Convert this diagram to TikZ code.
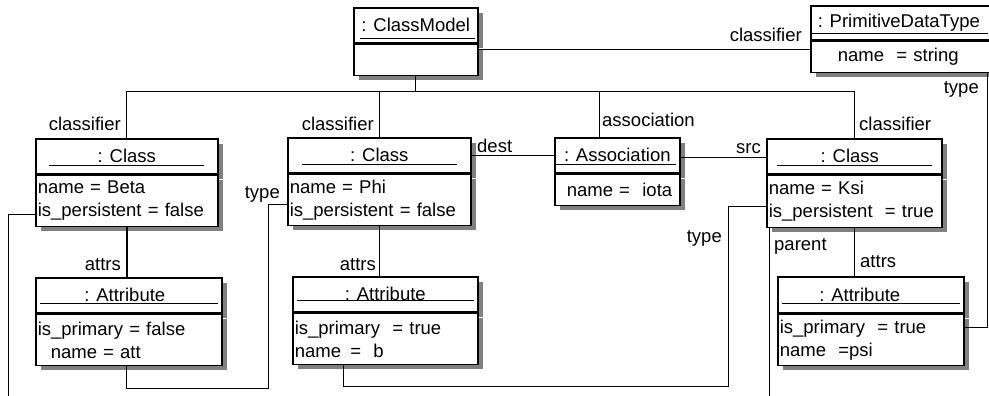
\documentclass[tikz,border=0pt]{standalone}
\usepackage{fontspec}
\setmainfont{Liberation Sans}
\usetikzlibrary{calc, shadows}

\tikzset{
  objhead/.style={draw, line width=1.6pt, fill=white, anchor=north west, inner sep=0pt,
    drop shadow={shadow xshift=5pt, shadow yshift=-5pt, fill=gray, opacity=1}},
  objbody/.style={objhead, align=left, inner xsep=2pt},
  uline/.style={line width=1.1pt},
  link/.style={line width=1pt},
  strong/.style={line width=1.5pt},
  role/.style={inner sep=0pt}
}

\begin{document}
\begin{tikzpicture}[x=1pt, y=-1pt, font=\fontsize{18.5}{23}\selectfont]
  \useasboundingbox (0,0) rectangle (989,396);
  \clip (0,0) rectangle (989,396);
  \coordinate (cut) at (0,400);

  % top row
  \node[objhead, minimum width=124pt, minimum height=35pt] (cmH) at (353,7) {: ClassModel};
  \node[objbody, text width=120pt, minimum height=31pt] (cmB) at (cmH.south west) {};
  \draw[uline] ($(cmH.south west)+(7,-5)$) -- ($(cmH.south east)+(-4,-5)$);

  \node[objhead, minimum width=183pt, minimum height=34pt] (pdtH) at (810,5) {: PrimitiveDataType\hspace*{7pt}};
  \node[objbody, text width=179pt, minimum height=31pt] (pdtB) at (pdtH.south west) {\hspace*{25pt}name\ \ = string};
  \draw[uline] ($(pdtH.south west)+(1,-7)$) -- ($(pdtH.south east)+(-7,-7)$);

  % classes and association
  \node[objhead, minimum width=182pt, minimum height=35pt] (betaH) at (35,138) {: Class};
  \node[objbody, text width=178pt, minimum height=51pt] (betaB) at (betaH.south west) {name = Beta\\is\_persistent = false};
  \draw[uline] ($(betaH.south west)+(14,-9)$) -- ($(betaH.south east)+(-15,-9)$);

  \node[objhead, minimum width=183pt, minimum height=35pt] (phiH) at (287,137) {: Class};
  \node[objbody, text width=179pt, minimum height=51pt] (phiB) at (phiH.south west) {name = Phi\\is\_persistent = false};
  \draw[uline] ($(phiH.south west)+(15,-9)$) -- ($(phiH.south east)+(-15,-9)$);

  \node[objhead, minimum width=125pt, minimum height=35pt] (assocH) at (554,137) {: Association};
  \node[objbody, text width=121pt, minimum height=31pt] (assocB) at (assocH.south west) {\hspace*{10pt}name =\ \ iota};
  \draw[uline] ($(assocH.south west)+(1,-9)$) -- ($(assocH.south east)+(-5,-9)$);

  \node[objhead, minimum width=175pt, minimum height=35pt] (ksiH) at (766,138) {: Class\hspace*{9pt}};
  \node[objbody, text width=171pt, minimum height=52pt] (ksiB) at (ksiH.south west) {name = Ksi\\is\_persistent\ \ = true};
  \draw[uline] ($(ksiH.south west)+(11,-9)$) -- ($(ksiH.south east)+(-11,-9)$);

  % attributes
  \node[objhead, minimum width=186pt, minimum height=35pt] (betaAH) at (35,277) {: Attribute\hspace*{8pt}};
  \node[objbody, text width=182pt, minimum height=51pt] (betaAB) at (betaAH.south west) {is\_primary = false\\\hspace*{13pt}name = att};
  \draw[uline] ($(betaAH.south west)+(5,-10)$) -- ($(betaAH.south east)+(-5,-10)$);

  \node[objhead, minimum width=185pt, minimum height=35pt] (phiAH) at (292,276) {: Attribute};
  \node[objbody, text width=181pt, minimum height=51pt] (phiAB) at (phiAH.south west) {is\_primary\ \ = true\\name\ \,= \ b};
  \draw[uline] ($(phiAH.south west)+(5,-12)$) -- ($(phiAH.south east)+(-5,-12)$);

  \node[objhead, minimum width=186pt, minimum height=36pt] (ksiAH) at (777,276) {: Attribute\hspace*{22pt}};
  \node[objbody, text width=182pt, minimum height=51pt] (ksiAB) at (ksiAH.south west) {is\_primary\ \ = true\\name\ \ =psi};
  \draw[uline] ($(ksiAH.south west)+(5,-10)$) -- ($(ksiAH.south east)+(-5,-10)$);

  % links
  \draw[strong] ($(cmB.north east)+(0,6)$) coordinate (cmOut) -- (cmOut -| pdtB.west);
  \coordinate (bus) at ($(cmB.south)+(0,15)$);
  \draw[link] (cmB.south) -- (bus);
  \draw[link] (betaH.north) |- (bus) -| (ksiH.north);
  \draw[link] (phiH.north) -- (phiH.north |- bus);
  \draw[link] ($(assocH.north west)+(45,0)$) coordinate (asIn) -- (asIn |- bus);
  \draw[strong] (phiH.east) -- (phiH.east -| assocH.west);
  \draw[strong] ($(assocH.east)+(0,2)$) coordinate (asOut) -- (asOut -| ksiH.west);
  \draw[strong] (betaB.south) -- (betaB.south |- betaAH.north);
  \draw[strong] (phiB.south) -- (phiB.south |- phiAH.north);
  \draw[strong] (ksiB.south) -- (ksiB.south |- ksiAH.north);
  \draw[link] (betaAB.south -| betaB.south) -- ++(0,22) -| ($(phiB.west)+(-19,5)$) -- ($(phiB.west)+(0,5)$);
  \draw[link] ($(phiAB.south west)+(51,0)$) -- ++(0,21) -| ($(ksiB.west)+(-38,5)$) -- ($(ksiB.west)+(0,5)$);
  \draw[link] ($(ksiAB.east)+(0,-12)$) -| ($(pdtB.south east)+(-7,0)$);
  \draw[link] ($(ksiB.south west)+(3,0)$) coordinate (parTop) -- (parTop |- cut);
  \draw[link] ($(betaB.west)+(0,14)$) -- ++(-27,0) coordinate (parLeft) -- (parLeft |- cut);

  % role names
  \node[role, anchor=east] (rCm) at (802,35) {classifier};
  \node[role, anchor=east] (rBeta) at (121,124) {classifier};
  \node[role, anchor=east] (rPhi) at (374,124) {classifier};
  \node[role, anchor=west] (rAssoc) at (602,120) {association};
  \node[role, anchor=west] (rKsi) at (859,124) {classifier};
  \node[role, anchor=east] (rPdt) at (979,89) {type};
  \node[role, anchor=west] (rDest) at (477,146) {dest};
  \node[role, anchor=east] (rSrc) at (761,149) {src};
  \node[role, anchor=east] (rTypePhi) at (280,194) {type};
  \node[role, anchor=east] (rTypeKsi) at (722,238) {type};
  \node[role, anchor=west] (rParent) at (774,246) {parent};
  \node[role, anchor=east] (rAttBeta) at (121,265) {attrs};
  \node[role, anchor=east] (rAttPhi) at (376,265) {attrs};
  \node[role, anchor=west] (rAttKsi) at (860,262) {attrs};
\end{tikzpicture}
\end{document}
